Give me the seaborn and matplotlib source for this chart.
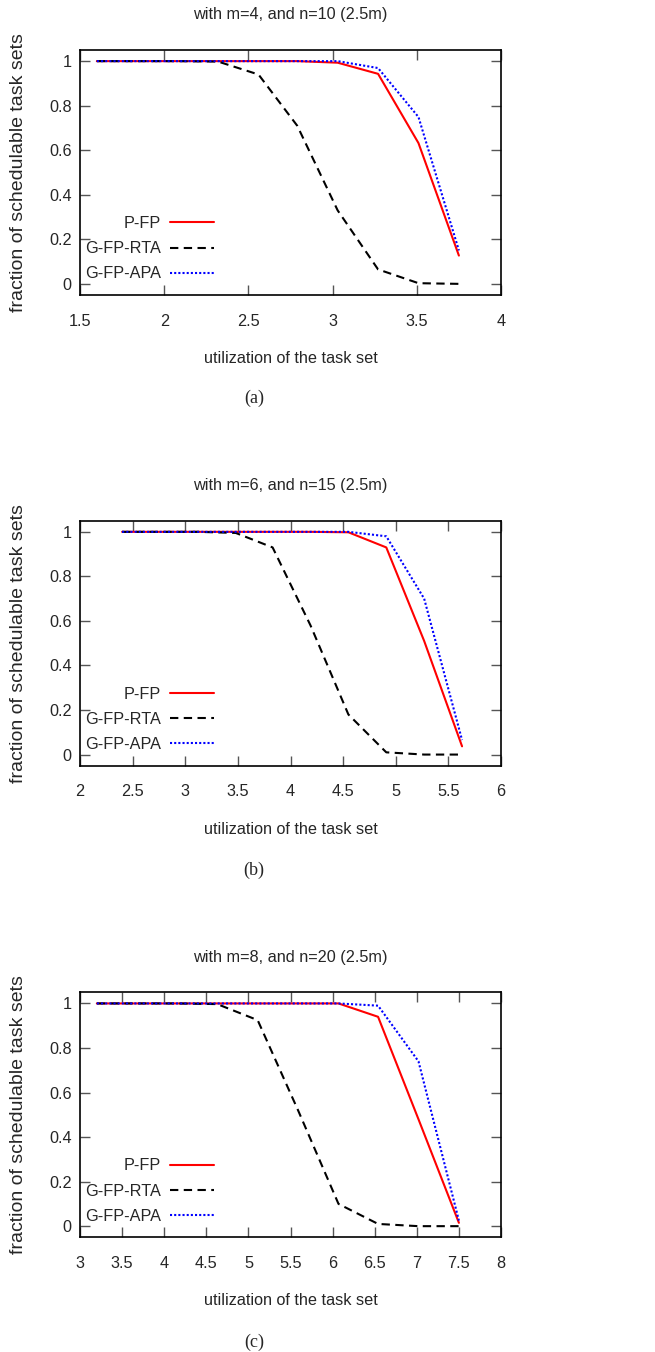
import pandas as pd
import matplotlib.pyplot as plt
import seaborn as sns
from matplotlib.ticker import FuncFormatter, MultipleLocator

SERIES = ['P-FP', 'G-FP-RTA', 'G-FP-APA']
COLORS = {'P-FP': '#ff0000', 'G-FP-RTA': '#000000', 'G-FP-APA': '#0000ff'}
DASHES = {'P-FP': '', 'G-FP-RTA': (4, 2.6), 'G-FP-APA': (1, 1)}

# (a) m=4, n=10
util_a = [1.60, 1.84, 2.08, 2.32, 2.56, 2.79, 3.03, 3.27, 3.51, 3.75]
pfp_a = [1.0, 1.0, 1.0, 1.0, 1.0, 1.0, 0.993, 0.943, 0.632, 0.127]
rta_a = [1.0, 1.0, 1.0, 0.998, 0.94, 0.71, 0.33, 0.065, 0.003, 0.0]
apa_a = [1.0, 1.0, 1.0, 1.0, 1.0, 1.0, 1.0, 0.969, 0.749, 0.15]

# (b) m=6, n=15
util_b = [2.40, 2.76, 3.12, 3.48, 3.83, 4.19, 4.55, 4.91, 5.27, 5.63]
pfp_b = [1.0, 1.0, 1.0, 1.0, 1.0, 1.0, 0.998, 0.93, 0.51, 0.037]
rta_b = [1.0, 1.0, 1.0, 0.995, 0.93, 0.58, 0.18, 0.01, 0.0, 0.0]
apa_b = [1.0, 1.0, 1.0, 1.0, 1.0, 1.0, 1.0, 0.98, 0.70, 0.065]

# (c) m=8, n=20
util_c = [3.20, 3.68, 4.16, 4.63, 5.11, 5.59, 6.07, 6.54, 7.02, 7.50]
pfp_c = [1.0, 1.0, 1.0, 1.0, 1.0, 1.0, 1.0, 0.94, 0.48, 0.015]
rta_c = [1.0, 1.0, 1.0, 0.997, 0.925, 0.52, 0.10, 0.01, 0.0, 0.0]
apa_c = [1.0, 1.0, 1.0, 1.0, 1.0, 1.0, 1.0, 0.99, 0.74, 0.025]

titles = ['with m=4, and n=10 (2.5m)', 'with m=6, and n=15 (2.5m)', 'with m=8, and n=20 (2.5m)']
captions = ['(a)', '(b)', '(c)']
xlims = [(1.5, 4), (2, 6), (3, 8)]

W, H = 655, 1352
axes_tops = [50, 520.7, 992.3]
caption_ys = [398, 870, 1342]
FS = 11.7      # horizontal text (the original is squeezed sideways)
FS_Y = 14      # vertical y label keeps its full length

sns.set_theme(style='ticks')
plt.rcParams['font.family'] = ['Liberation Sans', 'DejaVu Sans']
plt.rcParams['font.size'] = FS


def _plot_panel(fig, top, util, pfp, rta, apa, title, xlim):
    ax = fig.add_axes([80 / W, 1 - (top + 245) / H, 421 / W, 245 / H])
    df = pd.DataFrame({
        'util': util * 3,
        'frac': pfp + rta + apa,
        'algo': [SERIES[0]] * len(util) + [SERIES[1]] * len(util) + [SERIES[2]] * len(util),
    })
    sns.lineplot(data=df, x='util', y='frac', hue='algo', style='algo',
                 hue_order=SERIES, style_order=SERIES, palette=COLORS,
                 dashes=DASHES, linewidth=1.5, ax=ax)

    # gnuplot style key: labels right-aligned, sample line on the right
    handles, labels = ax.get_legend_handles_labels()
    ax.legend(handles, labels, loc='lower left', bbox_to_anchor=(0.005, 0.042),
              borderaxespad=0, frameon=False, markerfirst=False, handlelength=2.7,
              handletextpad=0.55, labelspacing=0.63, fontsize=FS, borderpad=0.2)

    ax.set_xlim(*xlim)
    ax.set_ylim(-0.05, 1.05)
    ax.xaxis.set_major_locator(MultipleLocator(0.5))
    ax.yaxis.set_major_locator(MultipleLocator(0.2))
    fmt = FuncFormatter(lambda v, _: f'{v:g}')
    ax.xaxis.set_major_formatter(fmt)
    ax.yaxis.set_major_formatter(fmt)
    ax.tick_params(direction='in', length=7, width=1, color='#555555',
                   top=True, right=True, labelsize=FS)
    ax.tick_params(axis='x', pad=13.5)
    ax.tick_params(axis='y', pad=6)
    for spine in ax.spines.values():
        spine.set_color('black')
        spine.set_linewidth(1.2)

    ax.set_title(title, fontsize=FS, pad=22)
    ax.set_xlabel('utilization of the task set', fontsize=FS, labelpad=16)
    ax.set_ylabel('fraction of schedulable task sets', fontsize=FS_Y, labelpad=16)
    return ax


fig = plt.figure(figsize=(W / 100, H / 100), dpi=100)

panels = [(util_a, pfp_a, rta_a, apa_a), (util_b, pfp_b, rta_b, apa_b), (util_c, pfp_c, rta_c, apa_c)]
for i, (util, pfp, rta, apa) in enumerate(panels):
    _plot_panel(fig, axes_tops[i], util, pfp, rta, apa, titles[i], xlims[i])
    fig.text(254 / W, 1 - caption_ys[i] / H, captions[i], ha='center', va='center',
             fontsize=13, family=['Liberation Serif', 'DejaVu Serif'])

fig.savefig('out.png', dpi=100)
